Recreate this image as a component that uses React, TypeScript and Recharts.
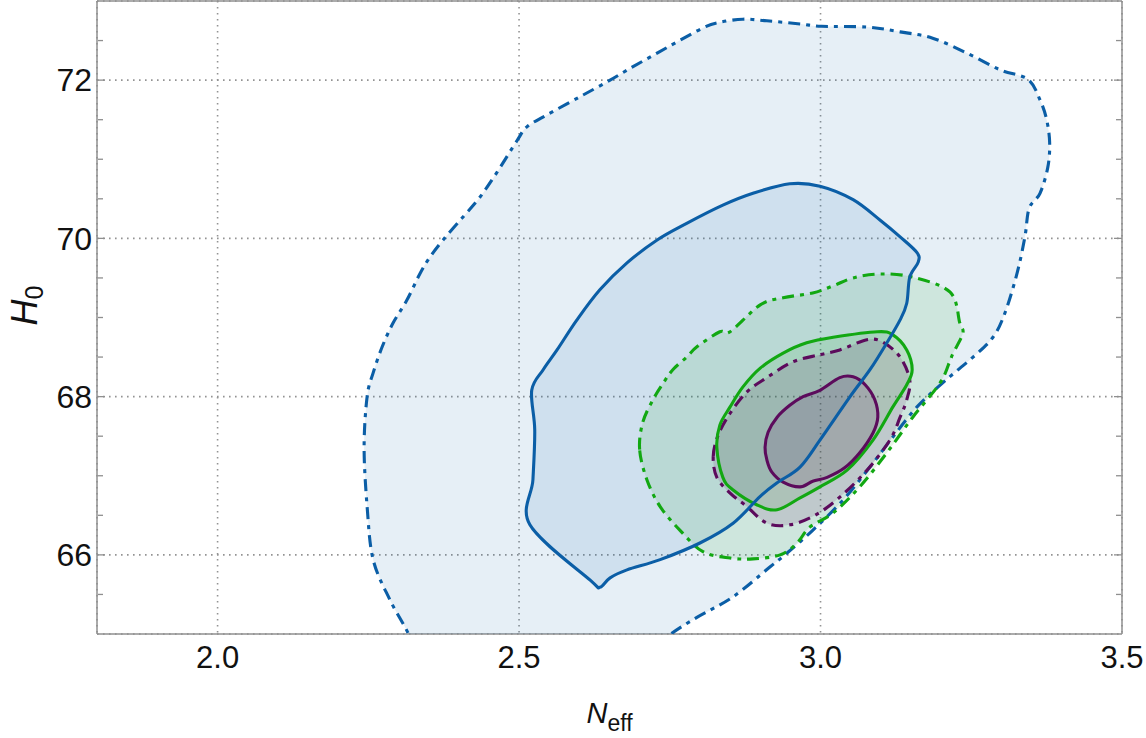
import { ScatterChart, Scatter, XAxis, YAxis, CartesianGrid } from "recharts";

// axis ticks
const X_TICKS = [2.0, 2.5, 3.0, 3.5];
const X_MINOR = [1.9, 2.1, 2.2, 2.3, 2.4, 2.6, 2.7, 2.8, 2.9, 3.1, 3.2, 3.3, 3.4];
const Y_TICKS = [66, 68, 70, 72];
const Y_MINOR = [65.5, 66.5, 67, 67.5, 68.5, 69, 69.5, 70.5, 71, 71.5, 72.5];

// contours, [N_eff, H0]
const BLUE_95 = [
  [2.34, 64.3], [2.33, 64.6], [2.319, 64.96], [2.286, 65.43], [2.258, 65.94], [2.248, 66.61],
  [2.243, 67.36], [2.248, 68.0], [2.258, 68.3], [2.273, 68.63], [2.291, 68.93], [2.314, 69.22],
  [2.336, 69.56], [2.352, 69.76], [2.374, 69.98], [2.407, 70.27], [2.435, 70.52], [2.463, 70.83],
  [2.497, 71.24], [2.513, 71.41], [2.546, 71.56], [2.601, 71.79], [2.651, 72.0], [2.689, 72.17],
  [2.745, 72.41], [2.805, 72.66], [2.833, 72.73], [2.871, 72.77], [2.911, 72.75], [2.966, 72.71],
  [3.002, 72.68], [3.077, 72.67], [3.132, 72.61], [3.186, 72.53], [3.243, 72.34], [3.298, 72.13],
  [3.344, 72.01], [3.364, 71.75], [3.375, 71.5], [3.38, 71.21], [3.377, 70.9], [3.364, 70.57],
  [3.346, 70.38], [3.339, 70.02], [3.326, 69.56], [3.306, 69.06], [3.286, 68.75], [3.253, 68.5],
  [3.205, 68.19], [3.16, 67.87], [3.12, 67.49], [3.082, 67.11], [3.037, 66.69], [2.987, 66.31],
  [2.944, 66.02], [2.915, 65.84], [2.855, 65.47], [2.795, 65.21], [2.75, 64.99], [2.7, 64.67],
  [2.68, 64.3],
];
const BLUE_68 = [
  [2.518, 66.38], [2.523, 66.95], [2.526, 67.58], [2.521, 68.08], [2.54, 68.34], [2.563, 68.59],
  [2.596, 68.97], [2.634, 69.35], [2.679, 69.69], [2.729, 69.98], [2.778, 70.19], [2.838, 70.42],
  [2.888, 70.57], [2.949, 70.69], [2.999, 70.66], [3.054, 70.49], [3.099, 70.23], [3.132, 70.02],
  [3.16, 69.82], [3.162, 69.7], [3.148, 69.51], [3.143, 69.18], [3.132, 68.97], [3.11, 68.68],
  [3.082, 68.34], [3.049, 68.0], [2.999, 67.45], [2.966, 67.11], [2.928, 66.91], [2.9, 66.74],
  [2.855, 66.4], [2.8, 66.15], [2.734, 65.94], [2.679, 65.81], [2.651, 65.71], [2.634, 65.59],
  [2.618, 65.68],
];
const GREEN_95 = [
  [2.7, 67.33], [2.705, 67.67], [2.722, 67.96], [2.739, 68.17], [2.755, 68.34], [2.778, 68.5],
  [2.795, 68.63], [2.833, 68.82], [2.85, 68.82], [2.9, 69.16], [2.938, 69.25], [2.987, 69.31],
  [3.021, 69.4], [3.054, 69.5], [3.099, 69.55], [3.153, 69.51], [3.215, 69.32], [3.231, 68.93],
  [3.236, 68.8], [3.22, 68.55], [3.215, 68.46], [3.198, 68.17], [3.153, 67.74], [3.11, 67.29],
  [3.065, 66.86], [3.021, 66.53], [2.982, 66.35], [2.961, 66.15], [2.933, 66.0], [2.888, 65.95],
  [2.85, 65.96], [2.805, 66.04], [2.767, 66.31], [2.734, 66.61], [2.712, 66.95],
];
const GREEN_68 = [
  [2.828, 67.36], [2.833, 67.64], [2.85, 67.87], [2.871, 68.12], [2.9, 68.36], [2.938, 68.55],
  [2.977, 68.68], [3.021, 68.75], [3.094, 68.82], [3.12, 68.78], [3.143, 68.59], [3.152, 68.34],
  [3.143, 68.15], [3.12, 67.87], [3.087, 67.45], [3.044, 67.07], [2.999, 66.86], [2.966, 66.72],
  [2.928, 66.57], [2.895, 66.63], [2.855, 66.82], [2.838, 66.98],
];
const PURPLE_95 = [
  [2.822, 67.24], [2.83, 67.51], [2.85, 67.79], [2.878, 68.06], [2.911, 68.24], [2.954, 68.44],
  [2.999, 68.53], [3.032, 68.59], [3.077, 68.72], [3.103, 68.69], [3.132, 68.5], [3.148, 68.21],
  [3.143, 67.96], [3.132, 67.74], [3.115, 67.45], [3.077, 67.07], [3.032, 66.73], [2.991, 66.5],
  [2.949, 66.38], [2.911, 66.4], [2.878, 66.61], [2.85, 66.78], [2.828, 66.98],
];
const PURPLE_68 = [
  [2.908, 67.36], [2.913, 67.55], [2.928, 67.74], [2.949, 67.89], [2.971, 68.0], [2.999, 68.08],
  [3.032, 68.24], [3.054, 68.25], [3.074, 68.15], [3.09, 67.96], [3.095, 67.74], [3.087, 67.54],
  [3.065, 67.29], [3.04, 67.1], [3.011, 66.98], [2.987, 66.93], [2.966, 66.86], [2.938, 66.92],
  [2.919, 67.05], [2.911, 67.2],
];

const BLUE = "#0b5ea6";
const GREEN = "#12a812";
const PURPLE = "#5c0b5c";
const FRAME = "#8f8f8f";
const DOTDASH = "12 6 4 6";

const toPts = (arr: number[][]) => arr.map(([x, y]) => ({ x, y }));

// closed catmull-rom through the scaled points
function closedSpline(pts: { x: number; y: number }[]) {
  const n = pts.length;
  if (n < 3) return "";
  let d = `M${pts[0].x},${pts[0].y}`;
  for (let i = 0; i < n; i++) {
    const p0 = pts[(i - 1 + n) % n];
    const p1 = pts[i];
    const p2 = pts[(i + 1) % n];
    const p3 = pts[(i + 2) % n];
    const c1x = p1.x + (p2.x - p0.x) / 6;
    const c1y = p1.y + (p2.y - p0.y) / 6;
    const c2x = p2.x - (p3.x - p1.x) / 6;
    const c2y = p2.y - (p3.y - p1.y) / 6;
    d += `C${c1x},${c1y} ${c2x},${c2y} ${p2.x},${p2.y}`;
  }
  return d + "Z";
}

const FILLS = [
  { key: "b95", pts: BLUE_95, color: BLUE, op: 0.1 },
  { key: "b68", pts: BLUE_68, color: BLUE, op: 0.1 },
  { key: "g95", pts: GREEN_95, color: GREEN, op: 0.11 },
  { key: "g68", pts: GREEN_68, color: GREEN, op: 0.11 },
  { key: "p95", pts: PURPLE_95, color: PURPLE, op: 0.13 },
  { key: "p68", pts: PURPLE_68, color: PURPLE, op: 0.13 },
];

const LINES = [
  { key: "b95", pts: BLUE_95, color: BLUE, dash: DOTDASH },
  { key: "g95", pts: GREEN_95, color: GREEN, dash: DOTDASH },
  { key: "p95", pts: PURPLE_95, color: PURPLE, dash: DOTDASH },
  { key: "g68", pts: GREEN_68, color: GREEN, dash: undefined },
  { key: "p68", pts: PURPLE_68, color: PURPLE, dash: undefined },
  { key: "b68", pts: BLUE_68, color: BLUE, dash: undefined },
];

const noDot = () => <g />;
const noLabel = () => <g />;

const xTitle = (props: any) => {
  const { x, y, width } = props.viewBox;
  return (
    <text x={x + width / 2} y={y + 89} textAnchor="middle" fontSize={29} fill="#111">
      <tspan fontStyle="italic">N</tspan>
      <tspan fontSize={23} dy={8}>eff</tspan>
    </text>
  );
};

const yTitle = (props: any) => {
  const { x, y, height } = props.viewBox;
  const cy = y + height / 2 - 12;
  return (
    <text transform={`translate(${x + 37},${cy}) rotate(-90)`} textAnchor="middle" fontSize={36} fill="#111">
      <tspan fontStyle="italic">H</tspan>
      <tspan fontSize={25} dy={6}>0</tspan>
    </text>
  );
};

const axisCommon = { type: "number" as const, allowDataOverflow: true };
const tickLn = { stroke: FRAME, strokeWidth: 1.3 };

export default function App() {
  return (
    <div
      style={{
        position: "absolute",
        left: 0,
        top: 0,
        width: 1146,
        height: 738,
        background: "#fff",
        fontFamily: "'Liberation Sans', Arial, sans-serif",
      }}
    >
      <ScatterChart width={1146} height={738} margin={{ top: 1, right: 24, bottom: 0, left: 0 }}>
        <CartesianGrid xAxisId="x" yAxisId="y" stroke="#939393" strokeWidth={1.6} strokeDasharray="1.6 4.4" />
        <XAxis
          {...axisCommon}
          xAxisId="x"
          dataKey="x"
          domain={[1.8, 3.5]}
          ticks={X_TICKS}
          interval={0}
          tickFormatter={(v: number) => v.toFixed(1)}
          tickLine={false}
          tickSize={0}
          tickMargin={12}
          tick={{ fontSize: 31, fill: "#111" }}
          axisLine={{ stroke: FRAME, strokeWidth: 1.5 }}
          height={104}
          label={{ content: xTitle }}
        />
        <XAxis {...axisCommon} xAxisId="xbM" domain={[1.8, 3.5]} ticks={X_TICKS} interval={0} mirror height={1} tick={noLabel} tickSize={8} axisLine={false} tickLine={tickLn} />
        <XAxis {...axisCommon} xAxisId="xbm" domain={[1.8, 3.5]} ticks={X_MINOR} interval={0} mirror height={1} tick={noLabel} tickSize={5} axisLine={false} tickLine={tickLn} />
        <XAxis {...axisCommon} xAxisId="xtM" orientation="top" domain={[1.8, 3.5]} ticks={X_TICKS} interval={0} mirror height={1} tick={noLabel} tickSize={8} axisLine={{ stroke: FRAME, strokeWidth: 1.5 }} tickLine={tickLn} />
        <XAxis {...axisCommon} xAxisId="xtm" orientation="top" domain={[1.8, 3.5]} ticks={X_MINOR} interval={0} mirror height={1} tick={noLabel} tickSize={5} axisLine={false} tickLine={tickLn} />
        <YAxis
          {...axisCommon}
          yAxisId="y"
          dataKey="y"
          domain={[65, 73]}
          ticks={Y_TICKS}
          interval={0}
          tickLine={false}
          tickSize={0}
          tickMargin={5}
          tick={{ fontSize: 32, fill: "#111" }}
          axisLine={{ stroke: FRAME, strokeWidth: 1.5 }}
          width={97}
          label={{ content: yTitle }}
        />
        <YAxis {...axisCommon} yAxisId="ylM" domain={[65, 73]} ticks={Y_TICKS} interval={0} mirror width={1} tick={noLabel} tickSize={8} axisLine={false} tickLine={tickLn} />
        <YAxis {...axisCommon} yAxisId="ylm" domain={[65, 73]} ticks={Y_MINOR} interval={0} mirror width={1} tick={noLabel} tickSize={5} axisLine={false} tickLine={tickLn} />
        <YAxis {...axisCommon} yAxisId="yrM" orientation="right" domain={[65, 73]} ticks={Y_TICKS} interval={0} mirror width={1} tick={noLabel} tickSize={8} axisLine={{ stroke: FRAME, strokeWidth: 1.5 }} tickLine={tickLn} />
        <YAxis {...axisCommon} yAxisId="yrm" orientation="right" domain={[65, 73]} ticks={Y_MINOR} interval={0} mirror width={1} tick={noLabel} tickSize={5} axisLine={false} tickLine={tickLn} />

        {FILLS.map((c) => (
          <Scatter
            key={"f" + c.key}
            xAxisId="x"
            yAxisId="y"
            data={toPts(c.pts)}
            shape={noDot}
            isAnimationActive={false}
            line={(p: any) => (
              <path d={closedSpline(p.points ?? [])} fill={c.color} fillOpacity={c.op} stroke="none" />
            )}
          />
        ))}
        {LINES.map((c) => (
          <Scatter
            key={"l" + c.key}
            xAxisId="x"
            yAxisId="y"
            data={toPts(c.pts)}
            shape={noDot}
            isAnimationActive={false}
            line={(p: any) => (
              <path
                d={closedSpline(p.points ?? [])}
                fill="none"
                stroke={c.color}
                strokeWidth={3.1}
                strokeDasharray={c.dash}
                strokeLinejoin="round"
              />
            )}
          />
        ))}
      </ScatterChart>
    </div>
  );
}
